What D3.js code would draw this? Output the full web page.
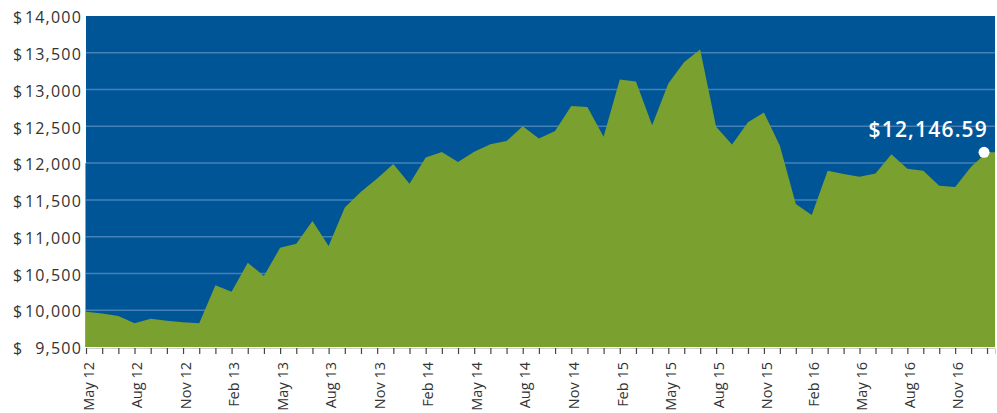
<!DOCTYPE html>
<html>
<head>
<meta charset="utf-8">
<script src="https://cdn.jsdelivr.net/npm/d3@7"></script>
<style>
  body { margin: 0; background: #fff; }
  svg { display: block; font-family: "Open Sans", sans-serif; }
</style>
</head>
<body>
<div id="chart"></div>
<script>
// month labels, May 12 .. Jan 17
const months = [
  "May 12", "Jun 12", "Jul 12", "Aug 12", "Sep 12", "Oct 12", "Nov 12", "Dec 12",
  "Jan 13", "Feb 13", "Mar 13", "Apr 13", "May 13", "Jun 13", "Jul 13", "Aug 13",
  "Sep 13", "Oct 13", "Nov 13", "Dec 13", "Jan 14", "Feb 14", "Mar 14", "Apr 14",
  "May 14", "Jun 14", "Jul 14", "Aug 14", "Sep 14", "Oct 14", "Nov 14", "Dec 14",
  "Jan 15", "Feb 15", "Mar 15", "Apr 15", "May 15", "Jun 15", "Jul 15", "Aug 15",
  "Sep 15", "Oct 15", "Nov 15", "Dec 15", "Jan 16", "Feb 16", "Mar 16", "Apr 16",
  "May 16", "Jun 16", "Jul 16", "Aug 16", "Sep 16", "Oct 16", "Nov 16", "Dec 16",
  "Jan 17"
];

// account value, one per month
const values = [
  9980, 9955, 9921, 9822, 9885, 9858, 9835, 9822,
  10338, 10252, 10646, 10465, 10849, 10904, 11212, 10872,
  11398, 11610, 11792, 11988, 11720, 12077, 12150, 12016,
  12154, 12258, 12299, 12501, 12333, 12435, 12777, 12763,
  12357, 13137, 13110, 12514, 13083, 13376, 13545, 12493,
  12254, 12557, 12689, 12235, 11443, 11293, 11895, 11851,
  11814, 11860, 12122, 11923, 11896, 11692, 11674, 11950,
  12146.59
];

const yTicks = [9500, 10000, 10500, 11000, 11500, 12000, 12500, 13000, 13500, 14000];
const endLabel = "$12,146.59";

const width = 997, height = 413;
const svg = d3.select("#chart").append("svg")
    .attr("width", width)
    .attr("height", height);

const lastIdx = values.length - 1;
const xEnd = lastIdx + 0.5;

const x = d3.scaleLinear()
    .domain([0, 36, xEnd])
    .range([86, 668.3, 995]);

const y = d3.scaleLinear()
    .domain([9500, 14000])
    .range([347, 16]);

// plot background
svg.append("rect")
    .attr("x", x(0))
    .attr("y", y(14000))
    .attr("width", x(xEnd) - x(0))
    .attr("height", y(9500) - y(14000))
    .attr("fill", "#005596");

// grid lines
svg.append("g").selectAll("line")
    .data(yTicks.slice(1, -1))
    .enter().append("line")
    .attr("x1", x(0))
    .attr("x2", x(xEnd))
    .attr("y1", d => y(d))
    .attr("y2", d => y(d))
    .attr("stroke", "#4580b6")
    .attr("stroke-width", 1.5);

// area
const areaData = values.map((v, i) => ({ i: i, v: v }));
areaData.push({ i: xEnd, v: values[lastIdx] });

const area = d3.area()
    .x(d => x(d.i))
    .y0(y(9500))
    .y1(d => y(d.v));

svg.append("path")
    .datum(areaData)
    .attr("d", area)
    .attr("fill", "#7aa02f");

// faint left edge line
svg.append("line")
    .attr("x1", x(0) - 0.5).attr("x2", x(0) - 0.5)
    .attr("y1", y(12000)).attr("y2", y(9500))
    .attr("stroke", "#9a9a9a")
    .attr("stroke-width", 1);

// x axis
const xAxis = svg.append("g")
    .attr("transform", `translate(0, ${y(9500) + 1})`)
    .call(d3.axisBottom(x)
        .tickValues(d3.range(0, values.length))
        .tickSize(6)
        .tickFormat(i => i % 3 === 0 ? months[i] : ""));

xAxis.select(".domain").attr("stroke", "#cfcfcf");
xAxis.selectAll(".tick line").attr("stroke", "#444").attr("stroke-width", 1.2);
xAxis.selectAll(".tick text")
    .attr("transform", "rotate(-90)")
    .attr("x", -14)
    .attr("y", 0)
    .attr("dy", "0.5em")
    .attr("text-anchor", "end")
    .attr("fill", "#333")
    .style("font-size", "14.5px")
    .style("font-family", "'Open Sans', sans-serif");

// y labels: "$" left aligned, number right aligned
const yLab = svg.append("g").selectAll("g")
    .data(yTicks)
    .enter().append("g")
    .attr("transform", d => `translate(0, ${y(d)})`);

yLab.append("text")
    .attr("x", 13)
    .attr("dy", "0.45em")
    .attr("fill", "#333")
    .style("font-size", "16px")
    .text("$");

yLab.append("text")
    .attr("x", 82)
    .attr("dy", "0.45em")
    .attr("text-anchor", "end")
    .attr("fill", "#333")
    .style("font-size", "16px")
    .style("letter-spacing", "1.2px")
    .text(d => d3.format(",")(d));

// end point marker and label
svg.append("circle")
    .attr("cx", x(lastIdx) - 3)
    .attr("cy", y(values[lastIdx]))
    .attr("r", 5.5)
    .attr("fill", "#fff");

svg.append("text")
    .attr("x", x(lastIdx) + 1)
    .attr("y", y(values[lastIdx]) - 15.5)
    .attr("text-anchor", "end")
    .attr("fill", "#fff")
    .style("font-size", "21px")
    .style("font-weight", "600")
    .style("letter-spacing", "1.2px")
    .text(endLabel);
</script>
</body>
</html>
